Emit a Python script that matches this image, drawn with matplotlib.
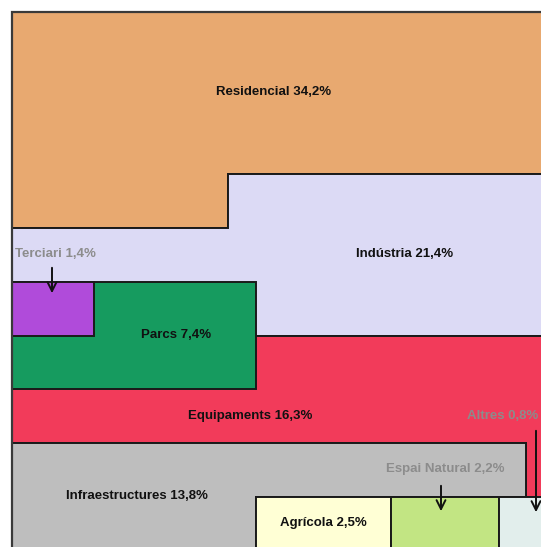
import matplotlib.pyplot as plt
from matplotlib.patches import Polygon

# land use shares (%)
categories = ['Residencial', 'Indústria', 'Terciari', 'Parcs', 'Equipaments',
              'Infraestructures', 'Agrícola', 'Espai Natural', 'Altres']
shares = [34.2, 21.4, 1.4, 7.4, 16.3, 13.8, 2.5, 2.2, 0.8]
colors = ['#E8A970', '#DCDAF5', '#B04BDA', '#169B5F', '#F23B5A',
          '#BEBEBE', '#FFFFD5', '#C2E583', '#E2EEEC']

# block outlines (drawing units = pixels of the original diagram)
R, B = 560, 560
shapes = {
    'Residencial': [(12, 12), (R, 12), (R, 174), (228, 174), (228, 228), (12, 228)],
    'Indústria': [(12, 228), (228, 228), (228, 174), (R, 174), (R, 336), (12, 336)],
    'Equipaments': [(12, 336), (R, 336), (R, 497), (526, 497), (526, 443), (12, 443)],
    'Parcs': [(12, 282), (256, 282), (256, 389), (12, 389)],
    'Terciari': [(12, 282), (94, 282), (94, 336), (12, 336)],
    'Infraestructures': [(12, 443), (526, 443), (526, 497), (256, 497), (256, B), (12, B)],
    'Agrícola': [(256, 497), (391, 497), (391, B), (256, B)],
    'Espai Natural': [(391, 497), (499, 497), (499, B), (391, B)],
    'Altres': [(499, 497), (R, 497), (R, B), (499, B)],
}
# label anchor, alignment, text colour, arrow (x, from y, to y) for small classes
labels = {
    'Residencial': ((274, 92), 'center', '#111111', None),
    'Indústria': ((405, 254), 'center', '#111111', None),
    'Terciari': ((15, 254), 'left', '#8C8C8C', (52, 265, 296)),
    'Parcs': ((176, 335), 'center', '#111111', None),
    'Equipaments': ((250, 416), 'center', '#111111', None),
    'Infraestructures': ((137, 496), 'center', '#111111', None),
    'Agrícola': ((323, 523), 'center', '#111111', None),
    'Espai Natural': ((386, 469), 'left', '#8C8C8C', (441, 483, 514)),
    'Altres': ((538, 416), 'right', '#8C8C8C', (536, 428, 515)),
}

fig = plt.figure(figsize=(5.41, 5.47), dpi=100)
ax = fig.add_axes([0, 0, 1, 1])
ax.set_xlim(0, 541)
ax.set_ylim(547, 0)
ax.axis('off')

order = ['Residencial', 'Indústria', 'Equipaments', 'Parcs', 'Terciari',
         'Infraestructures', 'Agrícola', 'Espai Natural', 'Altres']
for name in order:
    i = categories.index(name)
    ax.add_patch(Polygon(shapes[name], closed=True, facecolor=colors[i],
                         edgecolor='#1a1a1a', linewidth=1.4, joinstyle='miter'))

# outer frame (left and top)
ax.plot([12, 12, R], [B, 12, 12], color='#3a3a3a', lw=1.6, solid_joinstyle='miter')

for name in categories:
    i = categories.index(name)
    (x, y), ha, tc, arr = labels[name]
    txt = f"{name} {shares[i]:.1f}%".replace('.', ',')
    ax.text(x, y, txt, ha=ha, va='center', color=tc, fontsize=9.5,
            fontweight='bold', family=['Liberation Sans', 'DejaVu Sans'])
    if arr is not None:
        ax_, y0, y1 = arr
        ax.annotate('', xy=(ax_, y1), xytext=(ax_, y0),
                    arrowprops=dict(arrowstyle='->', color='#111111', lw=1.4,
                                    mutation_scale=16))

fig.savefig('out.png', dpi=100)
